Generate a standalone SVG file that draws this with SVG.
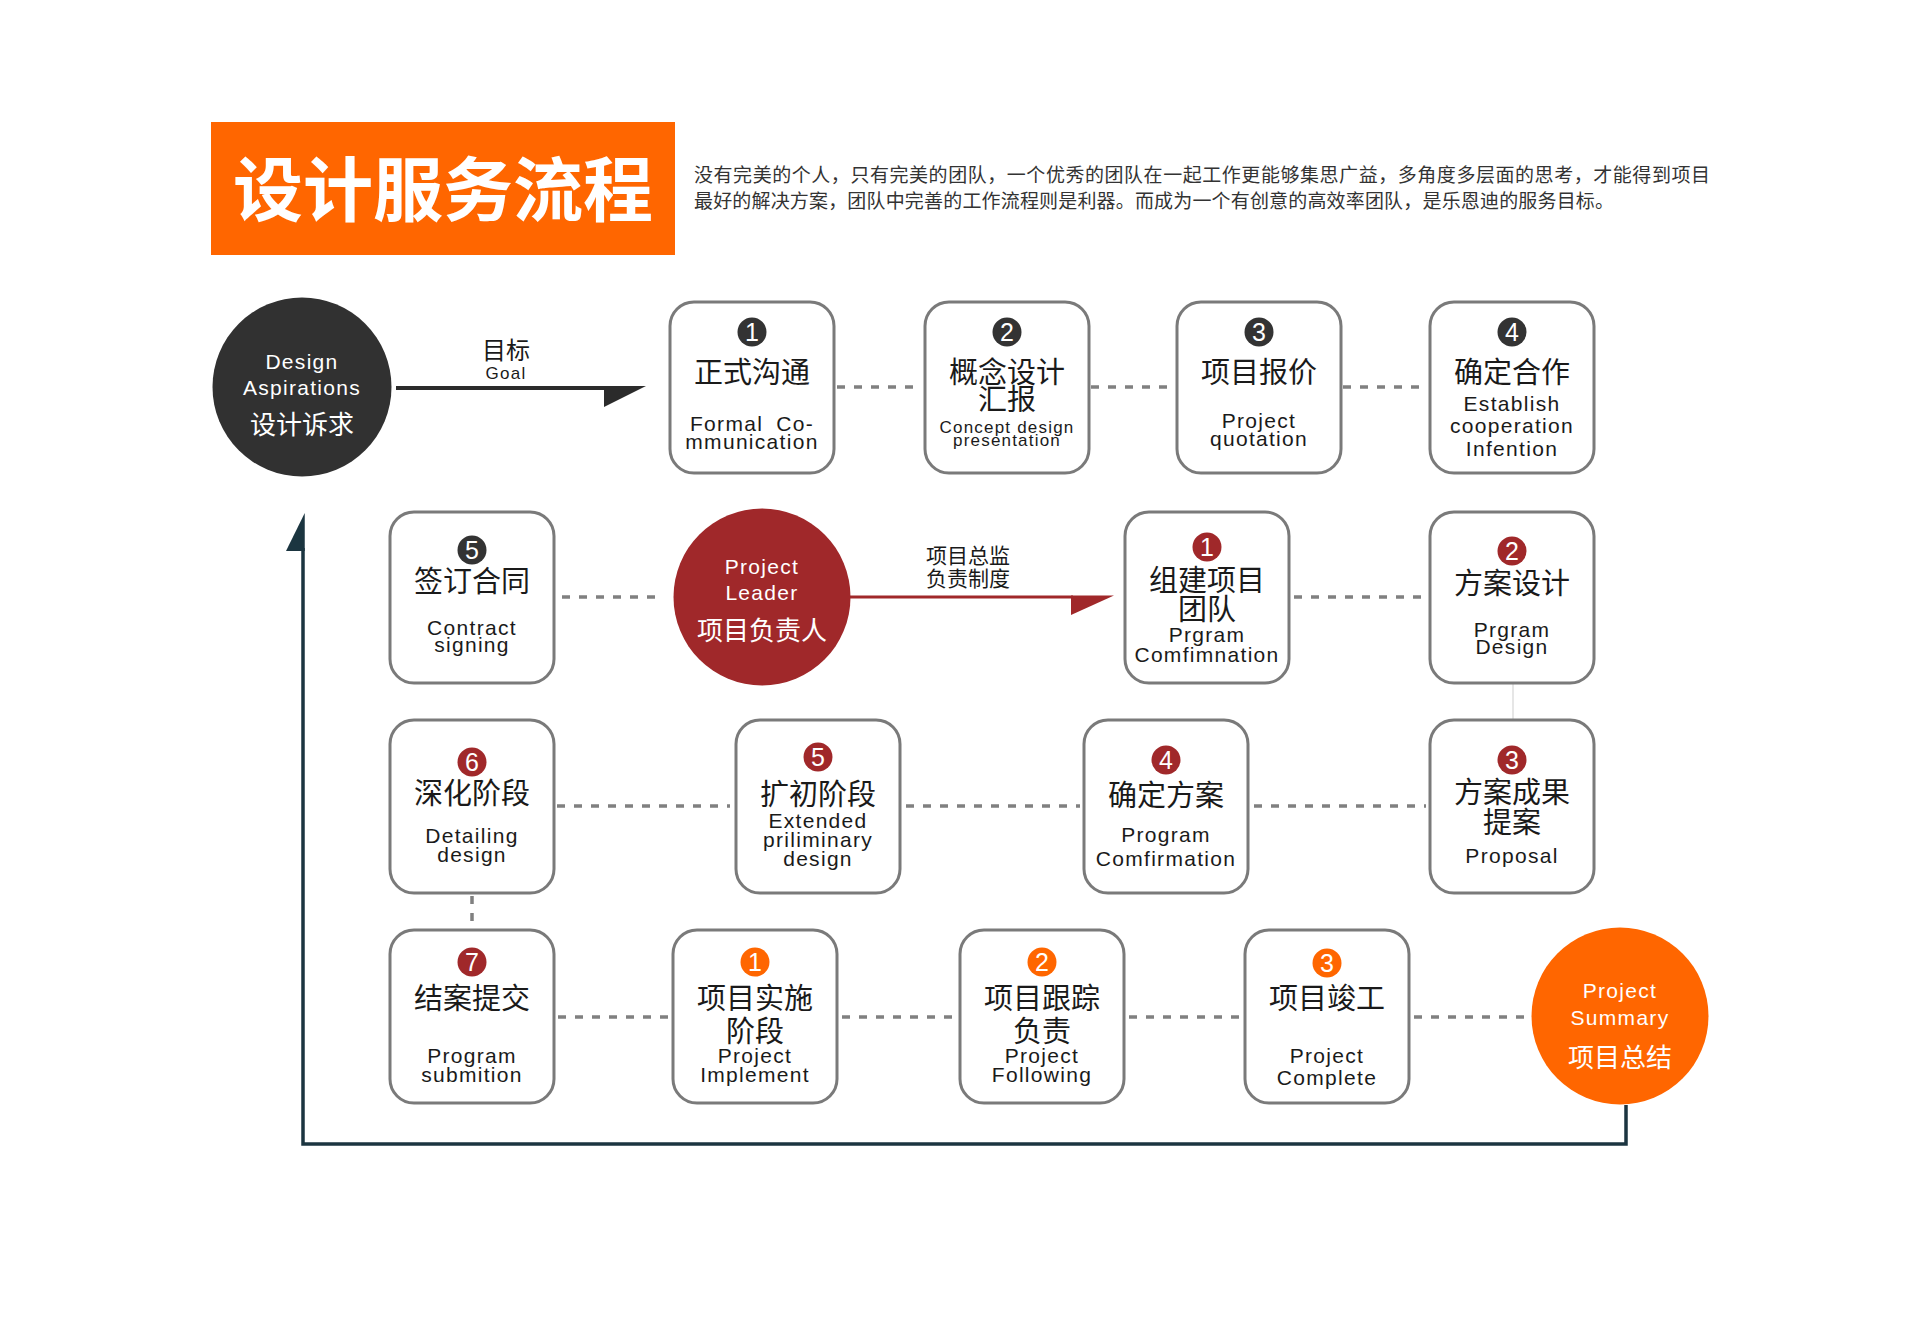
<svg xmlns="http://www.w3.org/2000/svg" width="1920" height="1336" viewBox="0 0 1920 1336">
<style>
.box{fill:#fff;stroke:#7a7a7a;stroke-width:3}
.zh{font-family:"Noto Sans CJK SC","Noto Sans CJK TC",sans-serif;font-size:29px;fill:#1a1a1a;text-anchor:middle}
.en{font-family:"Liberation Sans",Arial,sans-serif;font-size:21px;letter-spacing:1.3px;fill:#1a1a1a;text-anchor:middle}
.sm{font-size:17px;letter-spacing:1.2px}
.num{font-family:"Liberation Sans",Arial,sans-serif;font-size:25px;fill:#fff;text-anchor:middle}
.bd{fill:#333}
.br{fill:#a0282a}
.bo{fill:#ff6600}
.wt{fill:#fff}
.dot{stroke:#808080;stroke-width:3.5;stroke-dasharray:8 9;fill:none}
</style>
<rect width="1920" height="1336" fill="#fff"/>

<g id="header">
<rect x="211" y="122" width="464" height="133" fill="#ff6600"/>
<text x="443" y="216" font-family="'Noto Sans CJK SC',sans-serif" font-weight="700" font-size="70" fill="#fff" text-anchor="middle">设计服务流程</text>
<text x="694" y="182" font-family="'Noto Sans CJK SC',sans-serif" font-size="19" fill="#333" textLength="1016" lengthAdjust="spacing">没有完美的个人，只有完美的团队，一个优秀的团队在一起工作更能够集思广益，多角度多层面的思考，才能得到项目</text>
<text x="694" y="208" font-family="'Noto Sans CJK SC',sans-serif" font-size="19" fill="#333" textLength="920" lengthAdjust="spacing">最好的解决方案，团队中完善的工作流程则是利器。而成为一个有创意的高效率团队，是乐恩迪的服务目标。</text>
</g>

<g id="connectors">
<line x1="396" y1="388" x2="606" y2="388" stroke="#2b2b2b" stroke-width="4"/>
<polygon points="604,386 646,386 604,407" fill="#2b2b2b"/>
<line x1="850" y1="597" x2="1073" y2="597" stroke="#a0282a" stroke-width="3"/>
<polygon points="1071,595.5 1114,595.5 1071,615" fill="#a0282a"/>
<path d="M1626,1105 V1144 H303 V548" fill="none" stroke="#1b3540" stroke-width="3.5"/>
<polygon points="304.75,513 304.75,551 286,551" fill="#1b3540"/>
<line class="dot" x1="837" y1="387" x2="922" y2="387"/>
<line class="dot" x1="1091" y1="387" x2="1174" y2="387"/>
<line class="dot" x1="1343" y1="387" x2="1427" y2="387"/>
<line class="dot" x1="562" y1="597" x2="662" y2="597"/>
<line class="dot" x1="1294" y1="597" x2="1425" y2="597"/>
<line x1="1513" y1="684" x2="1513" y2="719" stroke="#e6e6e6" stroke-width="2"/>
<line class="dot" x1="557" y1="806" x2="730" y2="806"/>
<line class="dot" x1="906" y1="806" x2="1080" y2="806"/>
<line class="dot" x1="1254" y1="806" x2="1426" y2="806"/>
<line class="dot" x1="472" y1="896" x2="472" y2="928"/>
<line class="dot" x1="558" y1="1017" x2="669" y2="1017"/>
<line class="dot" x1="842" y1="1017" x2="956" y2="1017"/>
<line class="dot" x1="1129" y1="1017" x2="1241" y2="1017"/>
<line class="dot" x1="1414" y1="1017" x2="1530" y2="1017"/>
<text class="zh" x="506" y="359" style="font-size:24px">目标</text>
<text class="en" x="506" y="379" style="font-size:17px">Goal</text>
<text class="zh" x="968" y="563" style="font-size:21px">项目总监</text>
<text class="zh" x="968" y="586" style="font-size:21px">负责制度</text>
</g>

<g id="design-aspirations">
<circle cx="302" cy="387" r="89.5" fill="#313131"/>
<text class="en wt" x="302" y="369">Design</text>
<text class="en wt" x="302" y="395">Aspirations</text>
<text class="zh wt" x="302" y="434" style="font-size:26px">设计诉求</text>
</g>

<g id="s1">
<rect class="box" x="670" y="302" width="164" height="171" rx="24"/>
<circle class="bd" cx="752" cy="332" r="14.5"/><text class="num" x="752" y="341">1</text>
<text class="zh" x="752" y="383">正式沟通</text>
<text class="en" x="752" y="431" word-spacing="6">Formal Co-</text>
<text class="en" x="752" y="449">mmunication</text>
</g>
<g id="s2">
<rect class="box" x="925" y="302" width="164" height="171" rx="24"/>
<circle class="bd" cx="1007" cy="332" r="14.5"/><text class="num" x="1007" y="341">2</text>
<text class="zh" x="1007" y="383">概念设计</text>
<text class="zh" x="1007" y="410">汇报</text>
<text class="en sm" x="1007" y="433">Concept design</text>
<text class="en sm" x="1007" y="446">presentation</text>
</g>
<g id="s3">
<rect class="box" x="1177" y="302" width="164" height="171" rx="24"/>
<circle class="bd" cx="1259" cy="332" r="14.5"/><text class="num" x="1259" y="341">3</text>
<text class="zh" x="1259" y="383">项目报价</text>
<text class="en" x="1259" y="428">Project</text>
<text class="en" x="1259" y="446">quotation</text>
</g>
<g id="s4">
<rect class="box" x="1430" y="302" width="164" height="171" rx="24"/>
<circle class="bd" cx="1512" cy="332" r="14.5"/><text class="num" x="1512" y="341">4</text>
<text class="zh" x="1512" y="383">确定合作</text>
<text class="en" x="1512" y="411">Establish</text>
<text class="en" x="1512" y="433">cooperation</text>
<text class="en" x="1512" y="456">Infention</text>
</g>
<g id="s5">
<rect class="box" x="390" y="512" width="164" height="171" rx="24"/>
<circle class="bd" cx="472" cy="550" r="14.5"/><text class="num" x="472" y="559">5</text>
<text class="zh" x="472" y="592">签订合同</text>
<text class="en" x="472" y="635">Contract</text>
<text class="en" x="472" y="652">signing</text>
</g>

<g id="project-leader">
<circle cx="762" cy="597" r="88.5" fill="#a0282a"/>
<text class="en wt" x="762" y="574">Project</text>
<text class="en wt" x="762" y="600">Leader</text>
<text class="zh wt" x="762" y="640" style="font-size:26px">项目负责人</text>
</g>

<g id="p1">
<rect class="box" x="1125" y="512" width="164" height="171" rx="24"/>
<circle class="br" cx="1207" cy="547" r="14.5"/><text class="num" x="1207" y="556">1</text>
<text class="zh" x="1207" y="591">组建项目</text>
<text class="zh" x="1207" y="620">团队</text>
<text class="en" x="1207" y="642">Prgram</text>
<text class="en" x="1207" y="662">Comfimnation</text>
</g>
<g id="p2">
<rect class="box" x="1430" y="512" width="164" height="171" rx="24"/>
<circle class="br" cx="1512" cy="551" r="14.5"/><text class="num" x="1512" y="560">2</text>
<text class="zh" x="1512" y="594">方案设计</text>
<text class="en" x="1512" y="637">Prgram</text>
<text class="en" x="1512" y="654">Design</text>
</g>
<g id="p3">
<rect class="box" x="1430" y="720" width="164" height="173" rx="24"/>
<circle class="br" cx="1512" cy="760" r="14.5"/><text class="num" x="1512" y="769">3</text>
<text class="zh" x="1512" y="803">方案成果</text>
<text class="zh" x="1512" y="833">提案</text>
<text class="en" x="1512" y="863">Proposal</text>
</g>
<g id="p4">
<rect class="box" x="1084" y="720" width="164" height="173" rx="24"/>
<circle class="br" cx="1166" cy="760" r="14.5"/><text class="num" x="1166" y="769">4</text>
<text class="zh" x="1166" y="806">确定方案</text>
<text class="en" x="1166" y="842">Program</text>
<text class="en" x="1166" y="866">Comfirmation</text>
</g>
<g id="p5">
<rect class="box" x="736" y="720" width="164" height="173" rx="24"/>
<circle class="br" cx="818" cy="757" r="14.5"/><text class="num" x="818" y="766">5</text>
<text class="zh" x="818" y="805">扩初阶段</text>
<text class="en" x="818" y="828">Extended</text>
<text class="en" x="818" y="847">priliminary</text>
<text class="en" x="818" y="866">design</text>
</g>
<g id="p6">
<rect class="box" x="390" y="720" width="164" height="173" rx="24"/>
<circle class="br" cx="472" cy="762" r="14.5"/><text class="num" x="472" y="771">6</text>
<text class="zh" x="472" y="804">深化阶段</text>
<text class="en" x="472" y="843">Detailing</text>
<text class="en" x="472" y="862">design</text>
</g>
<g id="p7">
<rect class="box" x="390" y="930" width="164" height="173" rx="24"/>
<circle class="br" cx="472" cy="962" r="14.5"/><text class="num" x="472" y="971">7</text>
<text class="zh" x="472" y="1009">结案提交</text>
<text class="en" x="472" y="1063">Program</text>
<text class="en" x="472" y="1082">submition</text>
</g>

<g id="i1">
<rect class="box" x="673" y="930" width="164" height="173" rx="24"/>
<circle class="bo" cx="755" cy="962" r="14.5"/><text class="num" x="755" y="971">1</text>
<text class="zh" x="755" y="1009">项目实施</text>
<text class="zh" x="755" y="1042">阶段</text>
<text class="en" x="755" y="1063">Project</text>
<text class="en" x="755" y="1082">Implement</text>
</g>
<g id="i2">
<rect class="box" x="960" y="930" width="164" height="173" rx="24"/>
<circle class="bo" cx="1042" cy="962" r="14.5"/><text class="num" x="1042" y="971">2</text>
<text class="zh" x="1042" y="1009">项目跟踪</text>
<text class="zh" x="1042" y="1042">负责</text>
<text class="en" x="1042" y="1063">Project</text>
<text class="en" x="1042" y="1082">Following</text>
</g>
<g id="i3">
<rect class="box" x="1245" y="930" width="164" height="173" rx="24"/>
<circle class="bo" cx="1327" cy="963" r="14.5"/><text class="num" x="1327" y="972">3</text>
<text class="zh" x="1327" y="1009">项目竣工</text>
<text class="en" x="1327" y="1063">Project</text>
<text class="en" x="1327" y="1085">Complete</text>
</g>

<g id="project-summary">
<circle cx="1620" cy="1016" r="88.5" fill="#ff6600"/>
<text class="en wt" x="1620" y="998">Project</text>
<text class="en wt" x="1620" y="1025">Summary</text>
<text class="zh wt" x="1620" y="1067" style="font-size:26px">项目总结</text>
</g>
</svg>
